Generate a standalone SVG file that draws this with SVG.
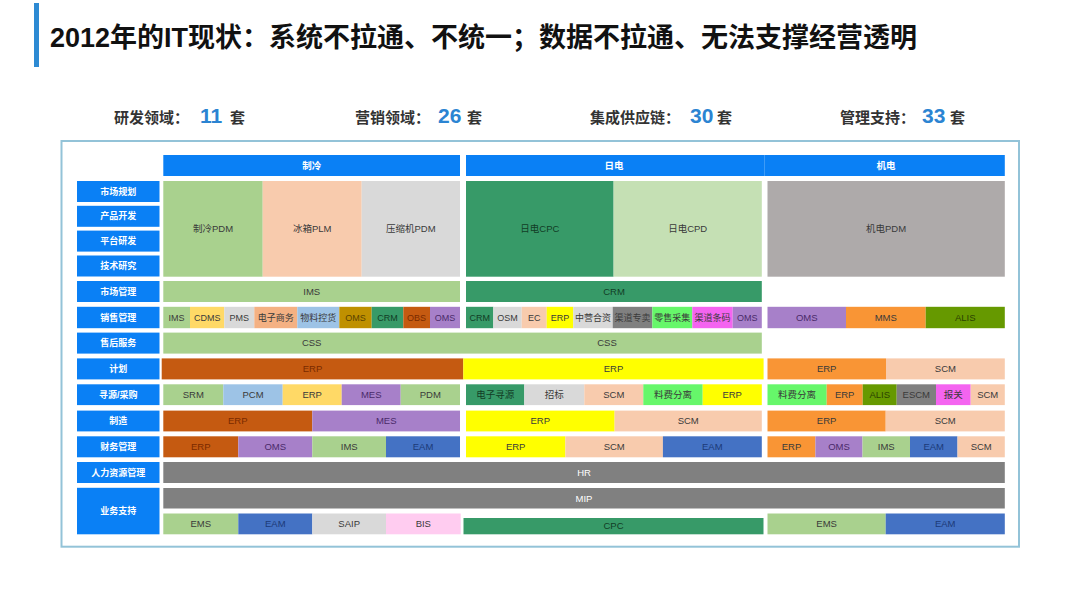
<svg xmlns="http://www.w3.org/2000/svg" width="1080" height="608" viewBox="0 0 1080 608">
<defs>
<style>
text{font-family:"Liberation Sans","Noto Sans CJK SC",sans-serif;text-anchor:middle}
.title{font-family:"Liberation Sans","Noto Sans CJK SC",sans-serif;font-size:27px;font-weight:bold;fill:#111;text-anchor:start}
.cl{font-family:"Noto Sans CJK SC",sans-serif;font-size:15px;font-weight:bold;fill:#333;text-anchor:start}
.cn{font-family:"Liberation Sans",sans-serif;font-size:21px;font-weight:bold;fill:#2b84d2;text-anchor:start}
.blue{fill:#0a80f5}
.hw{font-size:9.5px;fill:#fff;font-weight:bold}
.lw{font-size:9px;fill:#fff;font-weight:bold}
.t{font-size:9.5px;fill:#3a3a3a}
.s{font-size:9px;fill:#3a3a3a}
.tw{font-size:9.5px;fill:#fff}
.g1{fill:#a9d18e}.pe{fill:#f8cbad}.gy{fill:#d9d9d9}.dg{fill:#379a68}.pg{fill:#c5e0b4}.mg{fill:#aeaaaa}
.yl{fill:#ffd966}.sb{fill:#9dc3e6}.oc{fill:#bf9000}.rb{fill:#c55a11}.pu{fill:#a780c9}.bl{fill:#4472c4}
.dk{fill:#808080}.pk{fill:#ffccf0}.yy{fill:#ffff00}.lg{fill:#66f76a}.mg2{fill:#f464f0}.or{fill:#f99535}.ol{fill:#669900}
.on-rb{fill:#7a2a00}.on-bl{fill:#1c3a78}.on-dg{fill:#123d26}.on-pu{fill:#4a2a6a}.on-ol{fill:#2c4300}.on-oc{fill:#5a4300}
</style>
</defs>
<rect width="1080" height="608" fill="#fff"/>
<g id="title">
<rect x="34" y="3" width="5" height="64" fill="#2d8ad3"/>
<text x="50" y="47" class="title">2012年的IT现状：系统不拉通、不统一；数据不拉通、无法支撑经营透明</text>
</g>
<g id="counts">
<text x="114" y="123" class="cl">研发领域：</text><text x="200" y="123" class="cn">11</text><text x="230" y="123" class="cl">套</text>
<text x="355" y="123" class="cl">营销领域：</text><text x="438" y="123" class="cn">26</text><text x="467" y="123" class="cl">套</text>
<text x="590" y="123" class="cl">集成供应链：</text><text x="690" y="123" class="cn">30</text><text x="717" y="123" class="cl">套</text>
<text x="840" y="123" class="cl">管理支持：</text><text x="922" y="123" class="cn">33</text><text x="950" y="123" class="cl">套</text>
</g>
<rect id="frame" x="61.5" y="141" width="957.5" height="405.7" fill="none" stroke="#93c3d8" stroke-width="2"/>
<g id="headers">
<g id="h-zl"><rect x="163.3" y="155" width="296.7" height="21" class="blue"/><text x="311.7" y="169" class="hw">制冷</text></g>
<g id="h-rd"><rect x="466" y="155" width="298.7" height="21" class="blue"/><text x="614" y="169" class="hw">日电</text></g>
<g id="h-jd"><rect x="764.7" y="155" width="240.1" height="21" class="blue"/><text x="886" y="169" class="hw">机电</text></g>
</g>
<g id="row-labels">
<g id="l1"><rect x="77" y="181" width="82.5" height="21" class="blue"/><text x="118.3" y="194.5" class="lw">市场规划</text></g>
<g id="l2"><rect x="77" y="205.8" width="82.5" height="21" class="blue"/><text x="118.3" y="219.3" class="lw">产品开发</text></g>
<g id="l3"><rect x="77" y="230.6" width="82.5" height="21" class="blue"/><text x="118.3" y="244.1" class="lw">平台研发</text></g>
<g id="l4"><rect x="77" y="255.5" width="82.5" height="21" class="blue"/><text x="118.3" y="269" class="lw">技术研究</text></g>
<g id="l5"><rect x="77" y="281" width="82.5" height="21" class="blue"/><text x="118.3" y="294.5" class="lw">市场管理</text></g>
<g id="l6"><rect x="77" y="306.8" width="82.5" height="21.4" class="blue"/><text x="118.3" y="320.5" class="lw">销售管理</text></g>
<g id="l7"><rect x="77" y="332.6" width="82.5" height="21" class="blue"/><text x="118.3" y="346.1" class="lw">售后服务</text></g>
<g id="l8"><rect x="77" y="358.4" width="82.5" height="21" class="blue"/><text x="118.3" y="371.9" class="lw">计划</text></g>
<g id="l9"><rect x="77" y="384.3" width="82.5" height="20.8" class="blue"/><text x="118.3" y="397.7" class="lw">寻源/采购</text></g>
<g id="l10"><rect x="77" y="410.6" width="82.5" height="20.8" class="blue"/><text x="118.3" y="424" class="lw">制造</text></g>
<g id="l11"><rect x="77" y="436.3" width="82.5" height="21" class="blue"/><text x="118.3" y="449.8" class="lw">财务管理</text></g>
<g id="l12"><rect x="77" y="462" width="82.5" height="21" class="blue"/><text x="118.3" y="475.5" class="lw">人力资源管理</text></g>
<g id="l13"><rect x="77" y="487.8" width="82.5" height="46.5" class="blue"/><text x="118.3" y="514" class="lw">业务支持</text></g>
</g>
<g id="rd-blocks">
<g id="b-zlpdm"><rect x="163.3" y="181" width="99.4" height="95.7" class="g1"/><text x="213" y="232" class="t">制冷PDM</text></g>
<g id="b-bxplm"><rect x="262.7" y="181" width="99" height="95.7" class="pe"/><text x="312.2" y="232" class="t">冰箱PLM</text></g>
<g id="b-ysj"><rect x="361.7" y="181" width="98.3" height="95.7" class="gy"/><text x="410.8" y="232" class="t">压缩机PDM</text></g>
<g id="b-rdcpc"><rect x="466" y="181" width="147.6" height="95.7" class="dg"/><text x="539.8" y="232" class="t on-dg">日电CPC</text></g>
<g id="b-rdcpd"><rect x="613.6" y="181" width="148.2" height="95.7" class="pg"/><text x="687.7" y="232" class="t">日电CPD</text></g>
<g id="b-jdpdm"><rect x="767.5" y="181" width="237.3" height="95.7" class="mg"/><text x="886" y="232" class="t">机电PDM</text></g>
</g>
<g id="market">
<g id="m-ims"><rect x="163.3" y="281" width="296.7" height="21" class="g1"/><text x="311.7" y="294.7" class="t">IMS</text></g>
<g id="m-crm"><rect x="466" y="281" width="295.8" height="21" class="dg"/><text x="614" y="294.7" class="t on-dg">CRM</text></g>
</g>
<g id="sales">
<g><rect x="163.3" y="306.8" width="26.7" height="21.4" class="g1"/><text x="176.6" y="320.7" class="s">IMS</text></g>
<g><rect x="190" y="306.8" width="34.3" height="21.4" class="yl"/><text x="207.2" y="320.7" class="s">CDMS</text></g>
<g><rect x="224.3" y="306.8" width="30" height="21.4" class="gy"/><text x="239.3" y="320.7" class="s">PMS</text></g>
<g><rect x="254.3" y="306.8" width="43" height="21.4" fill="#f4b183"/><text x="275.8" y="320.7" class="s">电子商务</text></g>
<g><rect x="297.3" y="306.8" width="42" height="21.4" class="sb"/><text x="318.3" y="320.7" class="s">物料控货</text></g>
<g><rect x="339.3" y="306.8" width="32.4" height="21.4" class="oc"/><text x="355.5" y="320.7" class="s on-oc">OMS</text></g>
<g><rect x="371.7" y="306.8" width="31.6" height="21.4" class="dg"/><text x="387.5" y="320.7" class="s on-dg">CRM</text></g>
<g><rect x="403.3" y="306.8" width="26.7" height="21.4" class="rb"/><text x="416.6" y="320.7" class="s on-rb">OBS</text></g>
<g><rect x="430" y="306.8" width="30" height="21.4" class="pu"/><text x="445" y="320.7" class="s on-pu">OMS</text></g>
<g><rect x="466" y="306.8" width="27.3" height="21.4" class="dg"/><text x="479.7" y="320.7" class="s on-dg">CRM</text></g>
<g><rect x="493.3" y="306.8" width="28.4" height="21.4" class="gy"/><text x="507.5" y="320.7" class="s">OSM</text></g>
<g><rect x="521.7" y="306.8" width="25" height="21.4" class="pe"/><text x="534.2" y="320.7" class="s">EC</text></g>
<g><rect x="546.7" y="306.8" width="26.6" height="21.4" class="yy"/><text x="560" y="320.7" class="s">ERP</text></g>
<g><rect x="573.3" y="306.8" width="39.4" height="21.4" class="gy"/><text x="593" y="320.7" class="s">中营合资</text></g>
<g><rect x="612.7" y="306.8" width="39.6" height="21.4" class="dk"/><text x="632.5" y="320.7" class="s">渠道专卖</text></g>
<g><rect x="652.3" y="306.8" width="40" height="21.4" class="lg"/><text x="672.3" y="320.7" class="s">零售采集</text></g>
<g><rect x="692.3" y="306.8" width="40.4" height="21.4" class="mg2"/><text x="712.5" y="320.7" class="s">渠道条码</text></g>
<g><rect x="732.7" y="306.8" width="29.1" height="21.4" class="pu"/><text x="747.2" y="320.7" class="s on-pu">OMS</text></g>
<g><rect x="767.5" y="306.8" width="78.5" height="21.4" class="pu"/><text x="806.7" y="320.7" class="t on-pu">OMS</text></g>
<g><rect x="846" y="306.8" width="79.7" height="21.4" class="or"/><text x="885.8" y="320.7" class="t">MMS</text></g>
<g><rect x="925.7" y="306.8" width="79.1" height="21.4" class="ol"/><text x="965.2" y="320.7" class="t on-ol">ALIS</text></g>
</g>
<g id="service">
<g id="s-css"><rect x="163.3" y="332.6" width="598.5" height="21" class="g1"/><text x="311.7" y="346.3" class="t">CSS</text><text x="607" y="346.3" class="t">CSS</text></g>
</g>
<g id="plan">
<g><rect x="161.7" y="358.4" width="301.6" height="21" class="rb"/><text x="312.5" y="372.1" class="t on-rb">ERP</text></g>
<g><rect x="463.3" y="358.4" width="300.3" height="21" class="yy"/><text x="613.5" y="372.1" class="t">ERP</text></g>
<g><rect x="767.5" y="358.4" width="118.5" height="21" class="or"/><text x="826.7" y="372.1" class="t">ERP</text></g>
<g><rect x="886" y="358.4" width="118.8" height="21" class="pe"/><text x="945.4" y="372.1" class="t">SCM</text></g>
</g>
<g id="sourcing">
<g><rect x="163.3" y="384.3" width="60" height="20.8" class="g1"/><text x="193.3" y="397.9" class="t">SRM</text></g>
<g><rect x="223.3" y="384.3" width="59.4" height="20.8" class="sb"/><text x="253" y="397.9" class="t">PCM</text></g>
<g><rect x="282.7" y="384.3" width="59" height="20.8" class="yl"/><text x="312.2" y="397.9" class="t">ERP</text></g>
<g><rect x="341.7" y="384.3" width="59" height="20.8" class="pu"/><text x="371.2" y="397.9" class="t on-pu">MES</text></g>
<g><rect x="400.7" y="384.3" width="59.3" height="20.8" class="g1"/><text x="430.3" y="397.9" class="t">PDM</text></g>
<g><rect x="466" y="384.3" width="58.3" height="20.8" class="dg"/><text x="495.2" y="397.9" class="t on-dg">电子寻源</text></g>
<g><rect x="524.3" y="384.3" width="60" height="20.8" class="gy"/><text x="554.3" y="397.9" class="t">招标</text></g>
<g><rect x="584.3" y="384.3" width="59" height="20.8" class="pe"/><text x="613.8" y="397.9" class="t">SCM</text></g>
<g><rect x="643.3" y="384.3" width="59.4" height="20.8" class="lg"/><text x="673" y="397.9" class="t">料费分离</text></g>
<g><rect x="702.7" y="384.3" width="59.1" height="20.8" class="yy"/><text x="732.2" y="397.9" class="t">ERP</text></g>
<g><rect x="767.5" y="384.3" width="59.2" height="20.8" class="lg"/><text x="797.1" y="397.9" class="t">料费分离</text></g>
<g><rect x="826.7" y="384.3" width="36" height="20.8" class="or"/><text x="844.7" y="397.9" class="t">ERP</text></g>
<g><rect x="862.7" y="384.3" width="34" height="20.8" class="ol"/><text x="879.7" y="397.9" class="t on-ol">ALIS</text></g>
<g><rect x="896.7" y="384.3" width="39.3" height="20.8" class="dk"/><text x="916.3" y="397.9" class="t">ESCM</text></g>
<g><rect x="936" y="384.3" width="34.7" height="20.8" class="mg2"/><text x="953.3" y="397.9" class="t">报关</text></g>
<g><rect x="970.7" y="384.3" width="34.1" height="20.8" class="pe"/><text x="987.7" y="397.9" class="t">SCM</text></g>
</g>
<g id="manufacturing">
<g><rect x="163.3" y="410.6" width="149" height="20.8" class="rb"/><text x="237.8" y="424.2" class="t on-rb">ERP</text></g>
<g><rect x="312.3" y="410.6" width="147.7" height="20.8" class="pu"/><text x="386.2" y="424.2" class="t on-pu">MES</text></g>
<g><rect x="466" y="410.6" width="148.6" height="20.8" class="yy"/><text x="540.3" y="424.2" class="t">ERP</text></g>
<g><rect x="614.6" y="410.6" width="147.2" height="20.8" class="pe"/><text x="688.2" y="424.2" class="t">SCM</text></g>
<g><rect x="767.5" y="410.6" width="118.2" height="20.8" class="or"/><text x="826.6" y="424.2" class="t">ERP</text></g>
<g><rect x="885.7" y="410.6" width="119.1" height="20.8" class="pe"/><text x="945.2" y="424.2" class="t">SCM</text></g>
</g>
<g id="finance">
<g><rect x="163.3" y="436.3" width="75" height="21" class="rb"/><text x="200.8" y="450" class="t on-rb">ERP</text></g>
<g><rect x="238.3" y="436.3" width="74" height="21" class="pu"/><text x="275.3" y="450" class="t on-pu">OMS</text></g>
<g><rect x="312.3" y="436.3" width="73.7" height="21" class="g1"/><text x="349.2" y="450" class="t">IMS</text></g>
<g><rect x="386" y="436.3" width="74" height="21" class="bl"/><text x="423" y="450" class="t on-bl">EAM</text></g>
<g><rect x="466" y="436.3" width="99.4" height="21" class="yy"/><text x="515.7" y="450" class="t">ERP</text></g>
<g><rect x="565.4" y="436.3" width="97.5" height="21" class="pe"/><text x="614.2" y="450" class="t">SCM</text></g>
<g><rect x="662.9" y="436.3" width="98.9" height="21" class="bl"/><text x="712.3" y="450" class="t on-bl">EAM</text></g>
<g><rect x="767.5" y="436.3" width="47.9" height="21" class="or"/><text x="791.5" y="450" class="t">ERP</text></g>
<g><rect x="815.4" y="436.3" width="47.1" height="21" class="pu"/><text x="839" y="450" class="t on-pu">OMS</text></g>
<g><rect x="862.5" y="436.3" width="47.5" height="21" class="g1"/><text x="886.2" y="450" class="t">IMS</text></g>
<g><rect x="910" y="436.3" width="47.5" height="21" class="bl"/><text x="933.7" y="450" class="t on-bl">EAM</text></g>
<g><rect x="957.5" y="436.3" width="47.3" height="21" class="pe"/><text x="981.2" y="450" class="t">SCM</text></g>
</g>
<g id="hr"><rect x="163.3" y="462" width="841.5" height="21" class="dk"/><text x="584" y="475.7" class="tw">HR</text></g>
<g id="mip"><rect x="163.3" y="488" width="841.5" height="20.5" class="dk"/><text x="584" y="501.5" class="tw">MIP</text></g>
<g id="support">
<g><rect x="163.3" y="513.5" width="75" height="20.8" class="g1"/><text x="200.8" y="527.1" class="t">EMS</text></g>
<g><rect x="238.3" y="513.5" width="74" height="20.8" class="bl"/><text x="275.3" y="527.1" class="t on-bl">EAM</text></g>
<g><rect x="312.3" y="513.5" width="73.7" height="20.8" class="gy"/><text x="349.2" y="527.1" class="t">SAIP</text></g>
<g><rect x="386" y="513.5" width="74.7" height="20.8" class="pk"/><text x="423.3" y="527.1" class="t">BIS</text></g>
<g><rect x="463.5" y="518" width="300" height="16.3" class="dg"/><text x="613.5" y="529.3" class="t on-dg">CPC</text></g>
<g><rect x="767.5" y="513.5" width="118.2" height="20.8" class="g1"/><text x="826.6" y="527.1" class="t">EMS</text></g>
<g><rect x="885.7" y="513.5" width="119.1" height="20.8" class="bl"/><text x="945.2" y="527.1" class="t on-bl">EAM</text></g>
</g>
<g id="connectors"/>
</svg>
